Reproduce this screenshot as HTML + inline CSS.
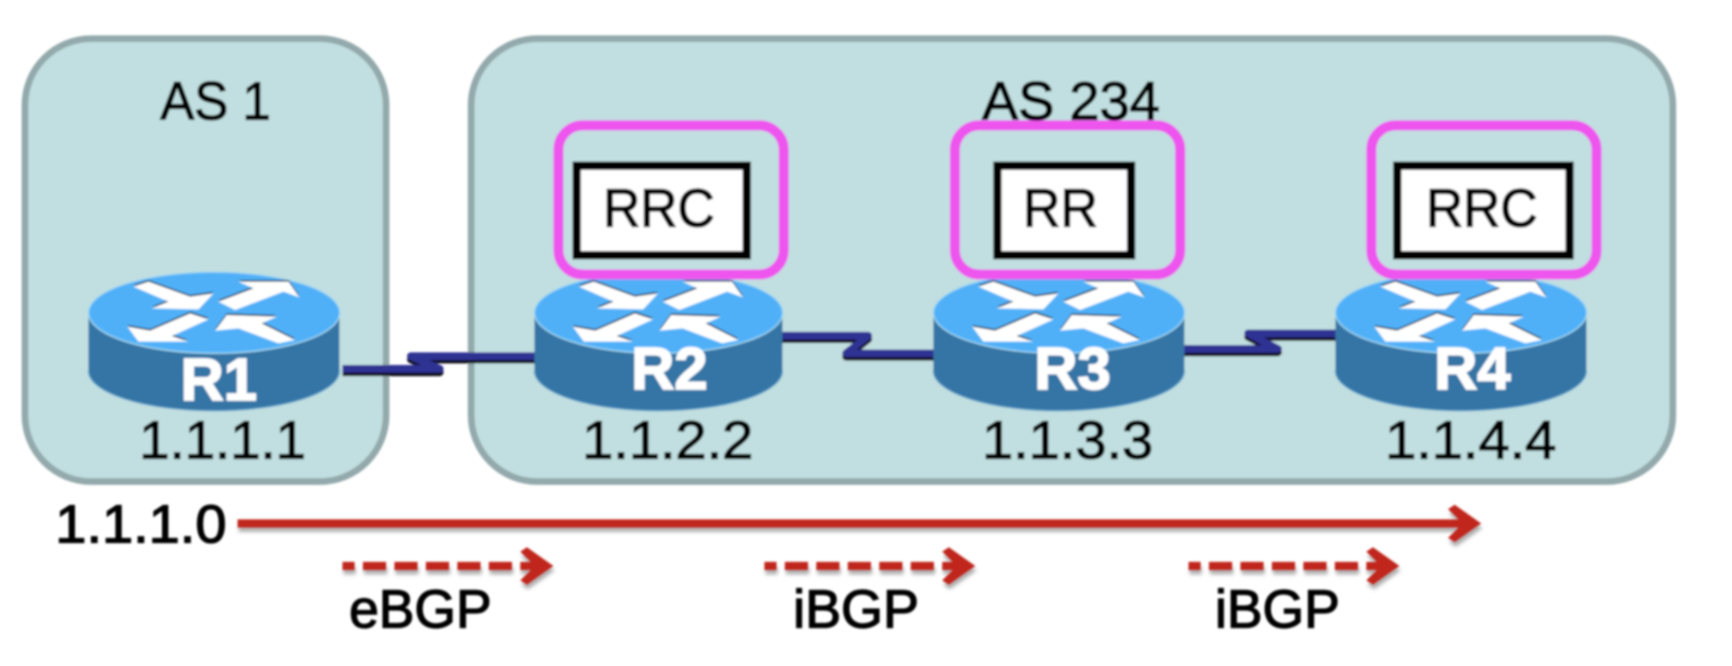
<!DOCTYPE html>
<html><head><meta charset="utf-8"><style>
html,body{margin:0;padding:0;background:#fff;width:1732px;height:666px;overflow:hidden}
svg{display:block}
text{font-family:"Liberation Sans",sans-serif;fill:#000;font-size:49px;stroke:#000;stroke-width:1.2}
text.w{fill:#fff;font-weight:bold;font-size:54px;text-anchor:middle;stroke:#fff;stroke-width:1.5}
</style></head><body>
<svg width="1732" height="666" viewBox="0 0 1568 603" xmlns="http://www.w3.org/2000/svg">
<defs>
<filter id="b" x="-2%" y="-2%" width="104%" height="104%"><feGaussianBlur stdDeviation="0.9"/></filter>
<filter id="s" x="-5%" y="-50%" width="110%" height="200%"><feGaussianBlur stdDeviation="1.8"/></filter>
<polygon id="head" points="-30,-13 -24,-17 0,0 -24,17 -30,13 -17,0"/>
<g id="arrows">
<polygon points="190,80 235,65 360,110 430,100 385,148 245,145 295,125"/>
<polygon points="445,125 550,85 505,65 655,65 688,112 640,95 495,150"/>
<polygon points="415,178 360,160 240,212 172,200 205,245 355,245 305,228"/>
<polygon points="435,212 470,165 620,170 575,190 675,240 625,250 505,205"/>
</g>
<g id="router" transform="scale(0.3018)">
<path d="M55 155V332A376 120 0 0 0 808 332V155Z" fill="#3574a5"/>
<path d="M55 332A376 120 0 0 0 808 332" fill="none" stroke="#5b9fc9" stroke-width="4"/>
<ellipse cx="432" cy="158" rx="377" ry="122" fill="#4fb0f8" stroke="#a5d8f2" stroke-width="4"/>
<use href="#arrows" fill="#17324f" transform="translate(0,-5)"/>
<use href="#arrows" fill="#fff"/>
</g>
</defs>
<g filter="url(#b)">
<rect x="22.5" y="35" width="327" height="401" rx="60" fill="#c1dfe0" stroke="#93a9ab" stroke-width="6"/>
<rect x="426.5" y="35" width="1088" height="401" rx="60" fill="#c1dfe0" stroke="#93a9ab" stroke-width="6"/>

<!-- links -->
<g fill="none" stroke-linejoin="round">
<g stroke="#0a0a14" stroke-width="7" transform="translate(0,3)">
<path d="M310 334H398L372 322.5H484"/>
<path d="M708 304H786L766 320H846"/>
<path d="M1072 316H1157L1130 302H1210"/>
</g>
<g stroke="#2e3192" stroke-width="7">
<path d="M310 334H398L372 322.5H484"/>
<path d="M708 304H786L766 320H846"/>
<path d="M1072 316H1157L1130 302H1210"/>
</g>
</g>

<use href="#router" transform="translate(63.4,235.4)"/>
<use href="#router" transform="translate(467.4,235.4) scale(.988,1)"/>
<use href="#router" transform="translate(828.4,235.4)"/>
<use href="#router" transform="translate(1192.4,235.4)"/>

<text class="w" x="198" y="362">R1</text>
<text class="w" x="606" y="352">R2</text>
<text class="w" x="971" y="352">R3</text>
<text class="w" x="1333" y="352">R4</text>

<!-- pink boxes -->
<g fill="none" stroke="#ee55ee" stroke-width="9">
<rect x="505.5" y="113.5" width="204" height="135" rx="22"/>
<rect x="864.5" y="113.5" width="204" height="135" rx="22"/>
<rect x="1241.5" y="113.5" width="204" height="135" rx="22"/>
</g>
<g fill="#fff" stroke="#000" stroke-width="7.5">
<rect x="522" y="150" width="154" height="81"/>
<rect x="903" y="150" width="121" height="81"/>
<rect x="1265" y="150" width="156" height="81"/>
</g>

<text x="546" y="205" textLength="101" lengthAdjust="spacingAndGlyphs">RRC</text>
<text x="926" y="205" textLength="68" lengthAdjust="spacingAndGlyphs">RR</text>
<text x="1291" y="205" textLength="101" lengthAdjust="spacingAndGlyphs">RRC</text>

<text x="145" y="108" textLength="100" lengthAdjust="spacingAndGlyphs">AS 1</text>
<text x="889" y="108" textLength="161" lengthAdjust="spacingAndGlyphs">AS 234</text>

<text x="126" y="415" textLength="151" lengthAdjust="spacingAndGlyphs">1.1.1.1</text>
<text x="527" y="415" textLength="155" lengthAdjust="spacingAndGlyphs">1.1.2.2</text>
<text x="889" y="415" textLength="155" lengthAdjust="spacingAndGlyphs">1.1.3.3</text>
<text x="1254" y="415" textLength="155" lengthAdjust="spacingAndGlyphs">1.1.4.4</text>
<text x="50" y="491" textLength="155" lengthAdjust="spacingAndGlyphs">1.1.1.0</text>
<text x="316" y="568" textLength="129" lengthAdjust="spacingAndGlyphs">eBGP</text>
<text x="718" y="568" textLength="114" lengthAdjust="spacingAndGlyphs">iBGP</text>
<text x="1100" y="568" textLength="113" lengthAdjust="spacingAndGlyphs">iBGP</text>

<!-- red arrows shadow -->
<g fill="none" stroke="#777" stroke-width="7" filter="url(#s)" opacity=".6" transform="translate(1,4)">
<path d="M215 474H1320"/>
<path d="M310 512.5H480" stroke-dasharray="21 7.5" stroke-dashoffset="10"/>
<path d="M692 512.5H862" stroke-dasharray="21 7.5" stroke-dashoffset="10"/>
<path d="M1076 512.5H1246" stroke-dasharray="21 7.5" stroke-dashoffset="10"/>
<use href="#head" x="1341" y="474" fill="#777" stroke="none"/>
<use href="#head" x="501" y="512.5" fill="#777" stroke="none"/>
<use href="#head" x="883" y="512.5" fill="#777" stroke="none"/>
<use href="#head" x="1267" y="512.5" fill="#777" stroke="none"/>
</g>
<g fill="none" stroke="#c0281c" stroke-width="7.5">
<path d="M215 474H1328"/>
<path d="M310 512.5H484" stroke-dasharray="21 7.5" stroke-dashoffset="10"/>
<path d="M692 512.5H866" stroke-dasharray="21 7.5" stroke-dashoffset="10"/>
<path d="M1076 512.5H1250" stroke-dasharray="21 7.5" stroke-dashoffset="10"/>
</g>
<g fill="#c0281c">
<use href="#head" x="1341" y="474"/>
<use href="#head" x="501" y="512.5"/>
<use href="#head" x="883" y="512.5"/>
<use href="#head" x="1267" y="512.5"/>
</g>
</g>
</svg>
</body></html>
